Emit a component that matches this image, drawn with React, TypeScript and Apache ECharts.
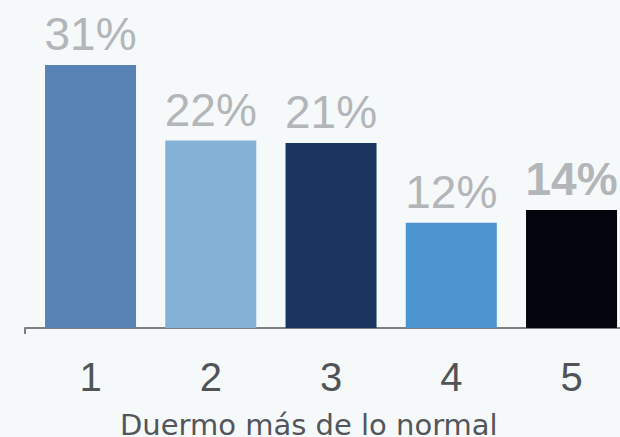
import React, { useEffect, useRef } from "react";
import * as echarts from "echarts";

const categories = ["1", "2", "3", "4", "5"];
const values = [31, 22.1, 21.8, 12.4, 13.9];
const valueLabels = ["31%", "22%", "21%", "12%", "14%"];
const barColors = ["#5784b4", "#84b1d6", "#1a355f", "#4c94d0", "#04050c"];
const boldLabel = [false, false, false, false, true];
const axisTitle = "Duermo más de lo normal";

export default function App() {
  const ref = useRef<HTMLDivElement>(null);
  useEffect(() => {
    if (!ref.current) return;
    const chart = echarts.init(ref.current, undefined, { renderer: "svg" });
    const positions = categories.map((c) => Number(c));
    chart.setOption({
      animation: false,
      backgroundColor: "#f6f9fa",
      title: {
        text: axisTitle,
        left: 115,
        top: 405,
        textStyle: {
          fontFamily: "DejaVu Sans",
          fontSize: 29,
          fontWeight: "normal",
          color: "#52565a",
        },
      },
      grid: { left: 25, right: 0, top: 65, bottom: 109 },
      xAxis: {
        type: "value",
        min: 0.455,
        max: 5.403,
        splitLine: { show: false },
        axisLine: { show: true, onZero: false, lineStyle: { color: "#7d8083", width: 2 } },
        axisTick: {
          show: true,
          customValues: [0.455],
          length: 6,
          lineStyle: { color: "#7d8083", width: 2 },
        },
        axisLabel: {
          customValues: positions,
          formatter: (v: number) => categories[Math.round(v) - 1] ?? "",
          fontFamily: "Liberation Sans",
          fontSize: 40,
          color: "#505457",
          margin: 29,
        },
      },
      yAxis: {
        type: "value",
        min: 0,
        max: 31,
        show: false,
        splitLine: { show: false },
      },
      series: [
        {
          type: "bar",
          barWidth: 91,
          data: values.map((v, i) => ({
            value: [positions[i], v],
            itemStyle: { color: barColors[i] },
            label: {
              show: true,
              position: "top",
              distance: 8,
              formatter: valueLabels[i],
              fontFamily: "Liberation Sans",
              fontSize: 46,
              fontWeight: boldLabel[i] ? "bold" : "normal",
              color: "#b3b6b8",
            },
          })),
        },
      ],
    });
    return () => chart.dispose();
  }, []);
  return (
    <div
      ref={ref}
      style={{ position: "fixed", left: 0, top: 0, width: 620, height: 437 }}
    />
  );
}
